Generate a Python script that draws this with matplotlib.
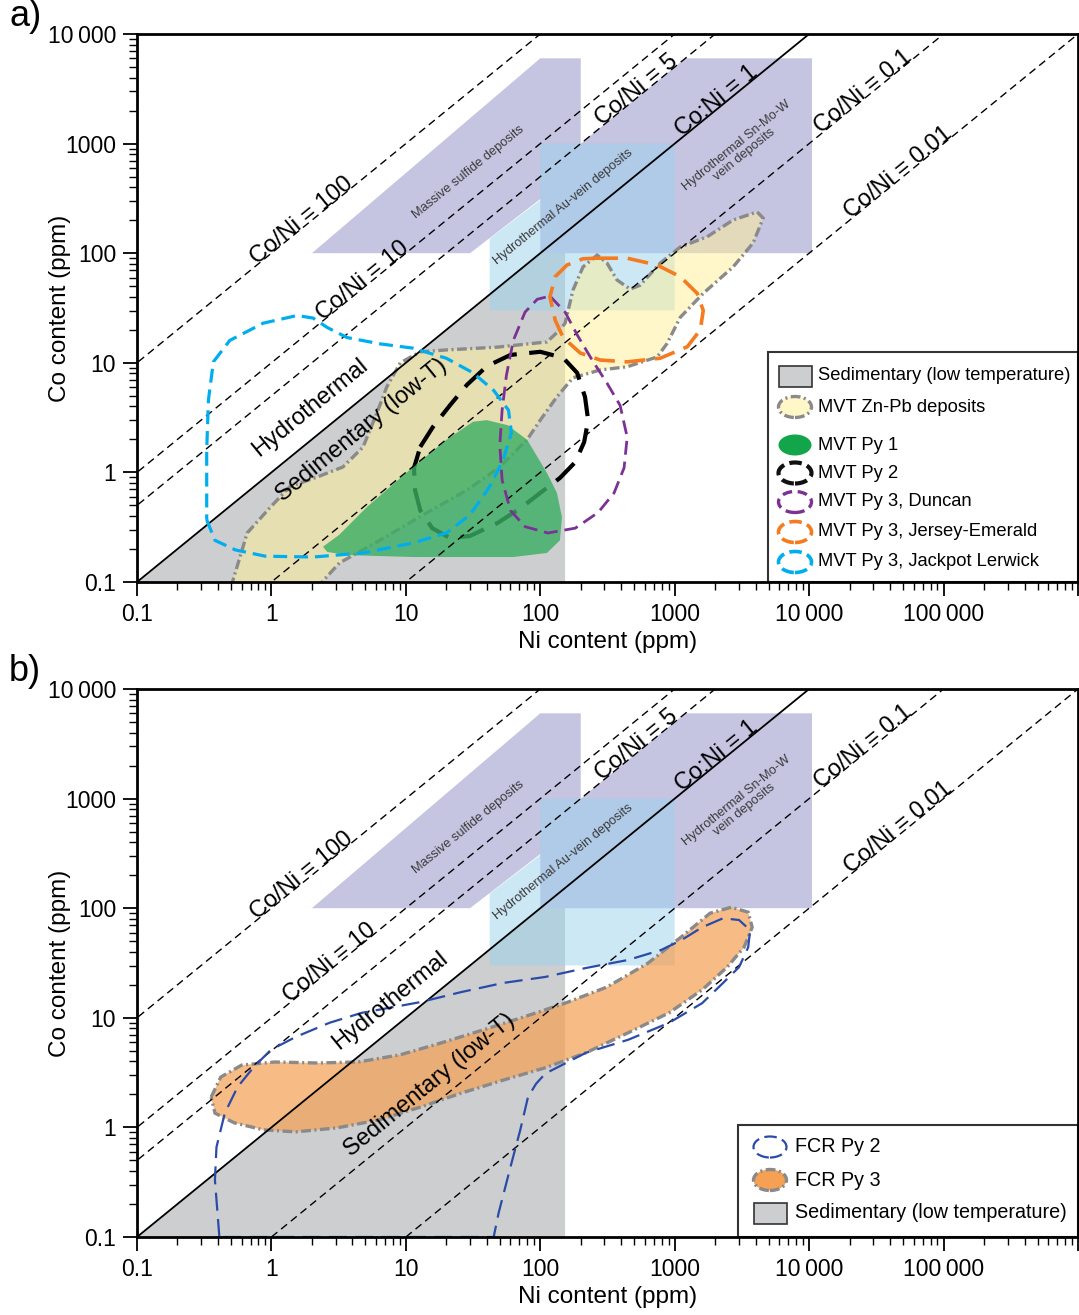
import numpy as np
import matplotlib
matplotlib.use('Agg')
import matplotlib.pyplot as plt
import matplotlib.patches as mpatches
from matplotlib.ticker import LogLocator, NullFormatter

plt.rcParams['font.family'] = ['Liberation Sans', 'DejaVu Sans']
plt.rcParams['lines.scale_dashes'] = False

# Co/Ni reference lines
ratios = [100, 10, 5, 1, 0.1, 0.01]
ratio_labels = ['Co/Ni = 100', 'Co/Ni = 10', 'Co/Ni = 5', 'Co:Ni = 1', 'Co/Ni = 0.1', 'Co/Ni = 0.01']
label_ni_a = [1.78, 5.1, 560, 2200, 27000, 49000]
label_ni_b = [1.78, 2.9, 560, 2200, 27000, 49000]

# background fields (Ni, Co in ppm)
sed_ni = [0.1, 153, 153]
sed_co = [0.1, 153, 0.1]
massive_ni = [2, 30, 200, 200, 100]
massive_co = [100, 100, 600, 6000, 6000]
snmow_ni = [100, 10500, 10500, 1200, 200, 100]
snmow_co = [100, 100, 6000, 6000, 1000, 1000]
auvein_ni = [42, 1000, 1000, 100, 100, 42]
auvein_co = [30, 30, 1000, 1000, 305, 136]

# a) MVT fields
mvt_ni = [0.5, 0.66, 0.98, 1.37, 2.2, 3.4, 4.8, 6.1, 7.2, 9.1, 12.8, 20, 48, 112, 140, 153, 175, 208, 265, 314,
          372, 466, 553, 778, 1100, 1740, 2720, 4100, 4550, 3830, 2720, 1630, 1100, 877, 740, 443, 279, 175, 133, 100,
          80, 50, 28.5, 14.4, 6.4, 3.2, 2.2]
mvt_co = [0.09, 0.28, 0.48, 0.74, 0.91, 1.12, 1.7, 3.5, 6.0, 10, 12.6, 13.1, 13.9, 15.5, 20, 23, 46, 75, 96, 81,
          57, 47, 51, 81, 114, 141, 201, 238, 209, 124, 75, 43, 26, 15, 11.3, 9.2, 8.6, 7.3, 4.9, 3.0,
          2.0, 1.12, 0.69, 0.43, 0.24, 0.149, 0.09]
py1_ni = [2.42, 3.2, 5.1, 11.3, 20, 31.6, 40, 57, 80, 112, 133, 145, 140, 112, 63, 11.3, 3.65, 2.6]
py1_co = [0.21, 0.27, 0.48, 1.12, 1.98, 2.9, 3.0, 2.7, 1.98, 0.99, 0.65, 0.39, 0.24, 0.184, 0.169, 0.169, 0.176, 0.188]
py2_ni = [12.8, 15.9, 21.3, 28.5, 40, 60, 100, 148, 188, 215, 227, 212, 182, 140, 100, 71, 48, 30, 21.3, 15.7,
          12.8, 11.7, 11.5]
py2_co = [1.71, 2.6, 4.1, 6.3, 9.3, 11.8, 12.6, 11.1, 8.1, 4.9, 3.0, 1.89, 1.24, 0.89, 0.65, 0.47, 0.345, 0.263,
          0.252, 0.31, 0.45, 0.69, 1.1]
dun_ni = [118, 153, 188, 243, 314, 392, 443, 420, 354, 269, 182, 114, 77, 60, 52, 50, 52, 56, 63, 77, 95]
dun_co = [40.6, 29, 18, 10.6, 6.5, 4.1, 2.1, 1.1, 0.65, 0.43, 0.31, 0.28, 0.32, 0.45, 0.85, 1.78, 3.7, 7.7, 16, 29, 38]
jer_ni = [265, 443, 740, 1100, 1470, 1630, 1550, 1240, 778, 443, 279, 198, 148, 129, 118, 129, 158, 208]
jer_co = [90, 90, 78, 61, 43, 30, 20, 14, 11, 10.2, 10.6, 12.3, 17, 24.5, 40, 61, 78, 89]
jack_ni = [0.33, 0.38, 0.54, 0.9, 2.04, 4.8, 11.3, 20, 30, 42, 53, 61, 58, 45, 31.6, 20, 11.3, 6.4, 3.65, 2.6,
           2.04, 1.55, 0.87, 0.49, 0.37, 0.34, 0.33, 0.33]
jack_co = [0.37, 0.24, 0.196, 0.172, 0.169, 0.184, 0.227, 0.28, 0.41, 0.74, 1.3, 2.3, 3.7, 5.6, 8.1, 11, 13.6,
           14.9, 17, 21, 25.6, 27, 23, 16, 10.2, 4.6, 1.6, 0.56]

# b) FCR fields
fcr3_ni = [0.356, 0.42, 0.60, 1.06, 2.18, 4.4, 9.1, 18.3, 36.9, 75.7, 153, 314, 634, 1117, 1833, 2630, 3520, 3770,
           3280, 2455, 1600, 908, 450, 219, 109, 53, 26, 12.8, 6.3, 3.08, 1.52, 0.87, 0.53, 0.38]
fcr3_co = [1.89, 2.88, 3.7, 3.95, 3.87, 3.95, 4.6, 5.9, 7.7, 10.2, 13.6, 19.1, 31.6, 54.6, 90, 102, 92, 67, 44, 29,
           18, 11.1, 7.3, 4.8, 3.5, 2.7, 2.06, 1.53, 1.17, 0.99, 0.91, 0.95, 1.1, 1.35]
fcr2_ni = [0.41, 0.38, 0.39, 0.45, 0.56, 0.74, 0.99, 1.52, 2.7, 4.7, 8.3, 12.8, 26, 53, 109, 219, 450, 793, 1117,
           1600, 2290, 3010, 3640, 3520, 3010, 2290, 1600, 908, 450, 219, 109, 93, 81, 71, 61, 49, 45]
fcr2_co = [0.1, 0.33, 0.66, 1.35, 2.34, 3.56, 5.1, 6.7, 9.0, 11.1, 12.6, 13.9, 17.2, 20.8, 23.6, 28.5, 33.7, 41.6,
           51, 67, 81, 78, 63, 44, 29, 20.8, 13.6, 9.0, 6.3, 4.8, 3.1, 2.5, 1.89, 0.95, 0.47, 0.166, 0.1]

x_ticks = [0.1, 1, 10, 100, 1000, 1e4, 1e5, 1e6]
x_ticklabels = ['0.1', '1', '10', '100', '1000', '10\u2009000', '100\u2009000', '']
y_ticks = [0.1, 1, 10, 100, 1000, 1e4]
y_ticklabels = ['0.1', '1', '10', '100', '1000', '10\u2009000']

GRAY = '#cdced0'
LAV = '#c5c4e1'
BLUE = '#9bd3ed'
MVT_Y = '#fff096'
OUTL = '#8a8a8a'
GREEN = '#3aae62'
PURPLE = '#7b3294'
ORANGE = '#f47b20'
CYAN = '#00aeef'
NAVY = '#2b4ba8'
FCR_O = '#f5a052'

DASHDOT = (0, (7, 2.5, 1.5, 2.5))


def poly(ni, co):
    return np.column_stack([ni, co])


def line_angle(ax):
    p0 = ax.transData.transform((1, 1))
    p1 = ax.transData.transform((10, 10))
    return np.degrees(np.arctan2(p1[1] - p0[1], p1[0] - p0[0]))


def base_panel(ax, label_ni, tag):
    ax.set_xscale('log')
    ax.set_yscale('log')
    ax.set_xlim(0.1, 1e6)
    ax.set_ylim(0.1, 1e4)
    ang = line_angle(ax)

    ax.add_patch(mpatches.Polygon(poly(sed_ni, sed_co), facecolor=GRAY, edgecolor='none', zorder=1))
    ax.add_patch(mpatches.Polygon(poly(massive_ni, massive_co), facecolor=LAV, edgecolor='none', zorder=1.2))
    ax.add_patch(mpatches.Polygon(poly(snmow_ni, snmow_co), facecolor=LAV, edgecolor='none', zorder=1.2))
    ax.add_patch(mpatches.Polygon(poly(auvein_ni, auvein_co), facecolor=BLUE, alpha=0.5,
                                  edgecolor='none', zorder=1.4))

    xs = np.array([0.01, 1e7])
    for r, lab, lx in zip(ratios, ratio_labels, label_ni):
        if r == 1:
            ax.plot(xs, r * xs, color='black', lw=1.3, zorder=6)
        else:
            ax.plot(xs, r * xs, color='black', lw=1.0, dashes=(5.5, 3.5), zorder=6)
        ax.text(lx, r * lx, lab, rotation=ang, rotation_mode='anchor', ha='center', va='baseline',
                fontsize=17, zorder=9)

    ax.text(29, 551, 'Massive sulfide deposits', rotation=ang, rotation_mode='anchor',
            ha='center', va='center', fontsize=9.3, color='#3a3a3a', zorder=9)
    ax.text(148, 264, 'Hydrothermal Au-vein deposits', rotation=ang, rotation_mode='anchor',
            ha='center', va='center', fontsize=9.3, color='#3a3a3a', zorder=9)
    ax.text(3070, 875, 'Hydrothermal Sn-Mo-W\nvein deposits', rotation=ang, rotation_mode='anchor',
            ha='center', va='center', fontsize=9.3, color='#3a3a3a', linespacing=1.0, zorder=9)

    ax.set_xticks(x_ticks)
    ax.set_xticklabels(x_ticklabels)
    ax.set_yticks(y_ticks)
    ax.set_yticklabels(y_ticklabels)
    ax.xaxis.set_minor_locator(LogLocator(base=10, subs=np.arange(2, 10), numticks=20))
    ax.yaxis.set_minor_locator(LogLocator(base=10, subs=np.arange(2, 10), numticks=20))
    ax.xaxis.set_minor_formatter(NullFormatter())
    ax.yaxis.set_minor_formatter(NullFormatter())
    ax.tick_params(which='major', direction='out', length=10, width=1.3, labelsize=16.5, pad=5,
                   top=False, right=False)
    ax.tick_params(which='minor', direction='out', length=6, width=1.0, top=False, right=False)
    for s in ax.spines.values():
        s.set_linewidth(2)
        s.set_zorder(30)
    ax.set_xlabel('Ni content (ppm)', fontsize=17.5)
    ax.set_ylabel('Co content (ppm)', fontsize=17.5)
    ax.xaxis.set_label_coords(0.5, -0.09)
    ax.yaxis.set_label_coords(-0.07, 0.5)
    ax.text(-0.136, 1.0, tag, transform=ax.transAxes, fontsize=26, ha='left', va='bottom')
    return ang


def legend_box(ax, x0, height, x_handle, x_text, entries, fontsize):
    ax.add_patch(mpatches.Rectangle((x0, 0), 1 - x0, height, transform=ax.transAxes, facecolor='white',
                                    edgecolor='#333333', lw=1.5, zorder=20))
    w = 33 / 941
    h = 21 / 548
    for kind, yc, label, kw in entries:
        if kind == 'rect':
            p = mpatches.Rectangle((x_handle - w / 2, yc - h / 2), w, h, transform=ax.transAxes, zorder=21, **kw)
        else:
            p = mpatches.Ellipse((x_handle, yc), w, h, transform=ax.transAxes, zorder=21, **kw)
        ax.add_patch(p)
        ax.text(x_text, yc, label, transform=ax.transAxes, fontsize=fontsize, va='center', ha='left', zorder=22)


fig = plt.figure(figsize=(10.79, 13.15), dpi=100)
ax_a = fig.add_axes([137 / 1079, 1 - 582 / 1315, 941 / 1079, 548 / 1315])
ax_b = fig.add_axes([137 / 1079, 1 - 1237 / 1315, 941 / 1079, 548 / 1315])

# ---- panel a
ang = base_panel(ax_a, label_ni_a, 'a)')
ax_a.add_patch(mpatches.Polygon(poly(mvt_ni, mvt_co), facecolor=MVT_Y, alpha=0.5, edgecolor='none', zorder=2))
ax_a.add_patch(mpatches.Polygon(poly(mvt_ni, mvt_co), fill=False, edgecolor=OUTL, lw=2.4,
                                linestyle=DASHDOT, zorder=3))
ax_a.add_patch(mpatches.Polygon(poly(py2_ni, py2_co), fill=False, edgecolor='black', lw=3.0,
                                linestyle=(0, (18, 9)), zorder=4))
ax_a.add_patch(mpatches.Polygon(poly(py1_ni, py1_co), facecolor=GREEN, alpha=0.8, edgecolor='none', zorder=5))
ax_a.add_patch(mpatches.Polygon(poly(dun_ni, dun_co), fill=False, edgecolor=PURPLE, lw=2.0,
                                linestyle=(0, (10, 5)), zorder=7))
ax_a.add_patch(mpatches.Polygon(poly(jer_ni, jer_co), fill=False, edgecolor=ORANGE, lw=2.6,
                                linestyle=(0, (15, 7)), zorder=7))
ax_a.add_patch(mpatches.Polygon(poly(jack_ni, jack_co), fill=False, edgecolor=CYAN, lw=2.3,
                                linestyle=(0, (10, 5)), zorder=7))

ax_a.text(1.94, 3.87, 'Hydrothermal', rotation=ang, rotation_mode='anchor', ha='center', va='center',
          fontsize=17, zorder=9)
ax_a.text(4.7, 2.44, 'Sedimentary (low-T)', rotation=ang, rotation_mode='anchor', ha='center', va='center',
          fontsize=17, zorder=9)

legend_box(ax_a, (768 - 137) / 941, (582 - 352) / 548, (795 - 137) / 941, (818 - 137) / 941, [
    ('rect', (582 - 376) / 548, 'Sedimentary (low temperature)',
     dict(facecolor=GRAY, edgecolor='#333333', lw=1.2)),
    ('ell', (582 - 407) / 548, 'MVT Zn-Pb deposits',
     dict(facecolor='#fff7c8', edgecolor=OUTL, lw=2.4, linestyle=DASHDOT)),
    ('ell', (582 - 445) / 548, 'MVT Py 1', dict(facecolor='#12a54a', edgecolor='none')),
    ('ell', (582 - 473) / 548, 'MVT Py 2', dict(fill=False, edgecolor='#111111', lw=3, linestyle=(0, (9, 4)))),
    ('ell', (582 - 502) / 548, 'MVT Py 3, Duncan', dict(fill=False, edgecolor=PURPLE, lw=2.4, linestyle=(0, (7, 4)))),
    ('ell', (582 - 532) / 548, 'MVT Py 3, Jersey-Emerald', dict(fill=False, edgecolor=ORANGE, lw=2.6, linestyle=(0, (9, 4)))),
    ('ell', (582 - 562) / 548, 'MVT Py 3, Jackpot Lerwick', dict(fill=False, edgecolor=CYAN, lw=2.6, linestyle=(0, (9, 4)))),
], 13.2)

# ---- panel b
ang = base_panel(ax_b, label_ni_b, 'b)')
ax_b.add_patch(mpatches.Polygon(poly(fcr3_ni, fcr3_co), facecolor=FCR_O, alpha=0.7, edgecolor='none', zorder=2))
ax_b.add_patch(mpatches.Polygon(poly(fcr3_ni, fcr3_co), fill=False, edgecolor=OUTL, lw=2.4,
                                linestyle=DASHDOT, zorder=3))
ax_b.add_patch(mpatches.Polygon(poly(fcr2_ni, fcr2_co), fill=False, edgecolor=NAVY, lw=1.6,
                                linestyle=(0, (13, 6)), zorder=7))

ax_b.text(7.6, 14.5, 'Hydrothermal', rotation=ang, rotation_mode='anchor', ha='center', va='center',
          fontsize=17, zorder=9)
ax_b.text(15.1, 2.44, 'Sedimentary (low-T)', rotation=ang, rotation_mode='anchor', ha='center', va='center',
          fontsize=17, zorder=9)

legend_box(ax_b, (738 - 137) / 941, (1237 - 1125) / 548, (770 - 137) / 941, (795 - 137) / 941, [
    ('ell', (1237 - 1147) / 548, 'FCR Py 2', dict(fill=False, edgecolor=NAVY, lw=1.6, linestyle=(0, (9, 4)))),
    ('ell', (1237 - 1180) / 548, 'FCR Py 3', dict(facecolor=FCR_O, edgecolor=OUTL, lw=2.4, linestyle=DASHDOT)),
    ('rect', (1237 - 1213) / 548, 'Sedimentary (low temperature)',
     dict(facecolor=GRAY, edgecolor='#333333', lw=1.2)),
], 14.2)

fig.savefig('out.png', dpi=100)
